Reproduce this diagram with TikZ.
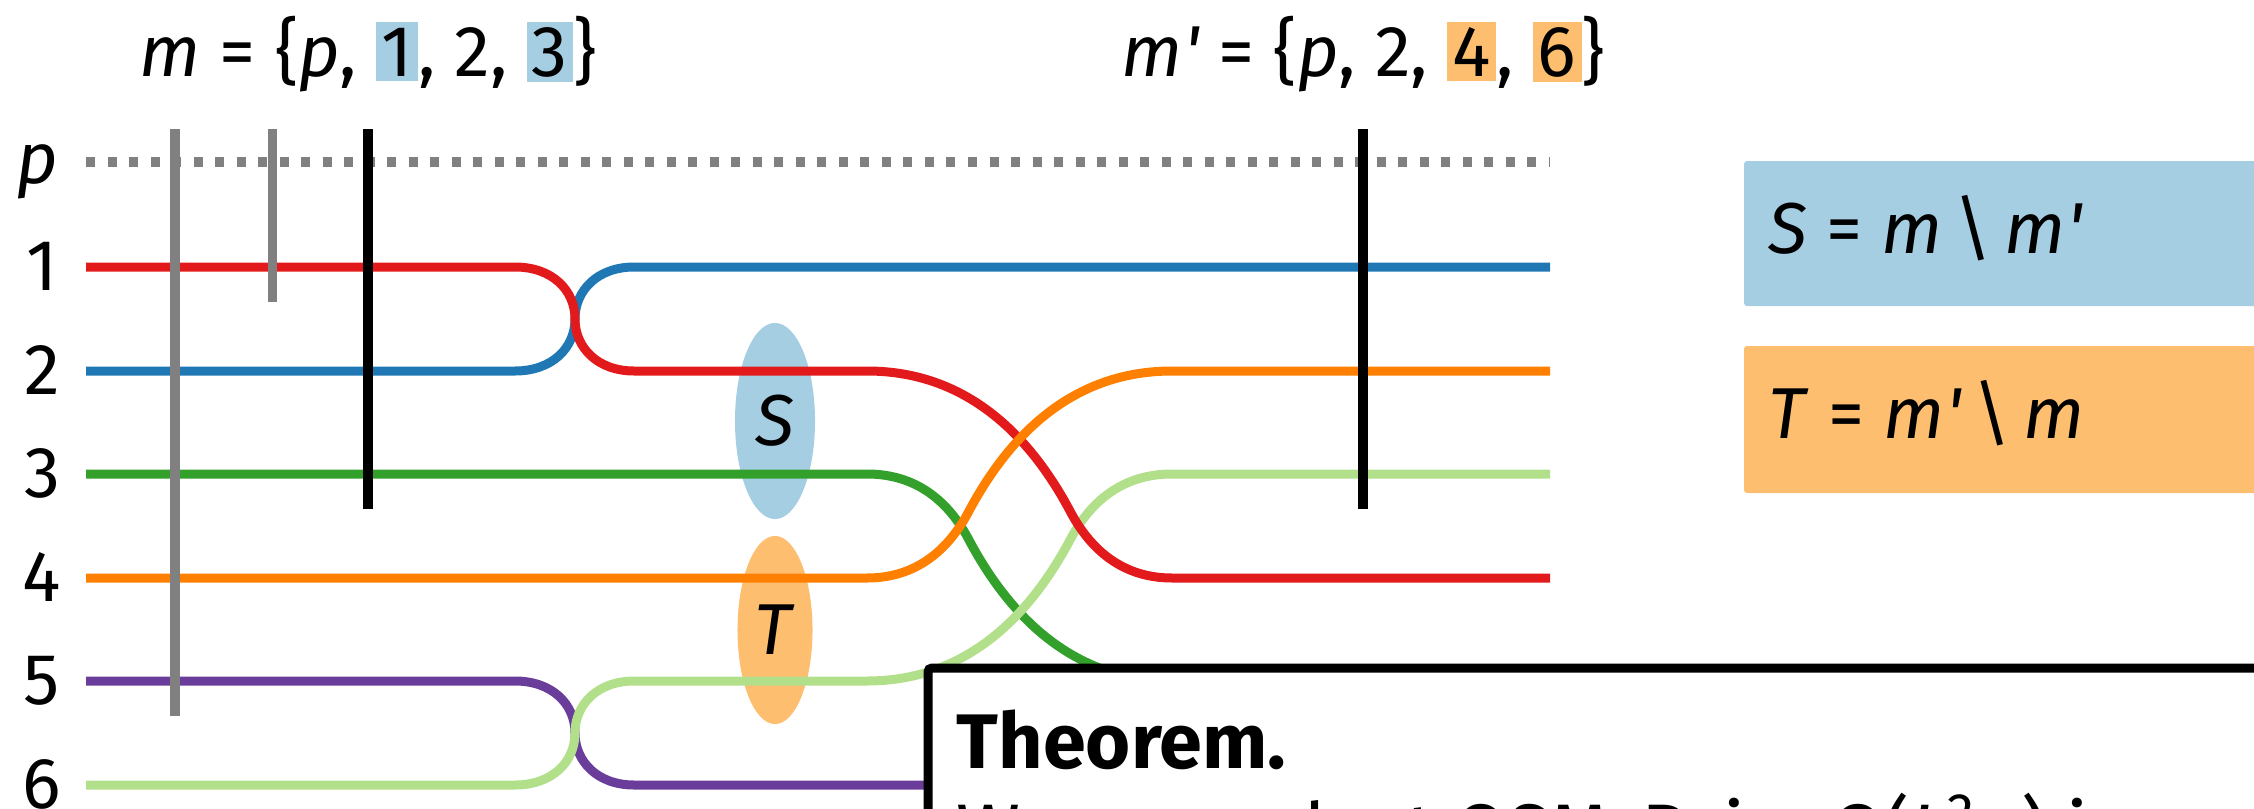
\documentclass[tikz,border=0pt]{standalone}
\usepackage{fontspec}
\setmainfont{Fira Sans}
\usepackage{xcolor}
\usepackage{tikz}
\usetikzlibrary{positioning,calc,shapes.geometric}
\definecolor{wred}{HTML}{E31A1C}
\definecolor{wblue}{HTML}{1F78B4}
\definecolor{wgreen}{HTML}{33A02C}
\definecolor{worange}{HTML}{FF7F00}
\definecolor{wpurple}{HTML}{6A3D9A}
\definecolor{wlgreen}{HTML}{B2DF8A}
\definecolor{setblue}{HTML}{A6CEE3}
\definecolor{setorange}{HTML}{FDBF6F}
\definecolor{bargray}{HTML}{808080}
\newcommand{\hl}[2]{{\setlength{\fboxsep}{1.5pt}\colorbox{#1}{#2}}}
\newcommand{\mysize}{\fontsize{20.5pt}{24pt}\selectfont}
\newcommand{\mprime}{\textit{m\kern0.5pt\textquotesingle}}
\tikzset{wire/.style={line width=0.09cm},
  gbar/.style={line width=0.09cm,draw=bargray},
  kbar/.style={line width=0.1cm,draw=black},
  rowlabel/.style={font=\mysize,inner sep=0pt,anchor=base},
  setname/.style={font=\mysize,inner sep=0pt,anchor=base},
  blob/.style={ellipse,inner sep=0pt,font=\mysize},
  legendbox/.style={fill,rounded corners=0.03cm},
  thmtext/.style={font=\fontsize{22pt}{26pt}\selectfont,inner sep=0pt,anchor=base west}}

\begin{document}
\begin{tikzpicture}[x=0.01cm,y=-0.01cm]
 \useasboundingbox (0,0) rectangle (2254,809);
 \clip (0,0) rectangle (2254,809);
 % the two differences
 \node[blob,fill=setblue,minimum width=0.8cm,minimum height=1.96cm] (sblob) at (775,421) {\textit{S}};
 \node[blob,fill=setorange,minimum width=0.75cm,minimum height=1.88cm] (tblob) at (775,630) {\textit{T}};
 % wires
 \draw[gbar,dash pattern=on 0.09cm off 0.125cm] (86,162) -- (1550,162);
 \draw[wire,wblue] (86,371) -- (515,371) .. controls (552,371) and (575,348) .. (575,319)
   .. controls (575,290) and (598,267) .. (634,267) -- (1550,267);
 \draw[wire,wpurple] (86,681) -- (515,681) .. controls (552,681) and (575,704) .. (575,733)
   .. controls (575,762) and (598,785) .. (634,785) -- (1550,785);
 \draw[wire,wgreen] (86,474) -- (867,474) .. controls (917,474) and (949,502) .. (969,540)
   .. controls (1009,615) and (1072,681) .. (1172,681) -- (1550,681);
 \draw[wire,wlgreen] (86,785) -- (515,785) .. controls (552,785) and (575,762) .. (575,733)
   .. controls (575,704) and (598,681) .. (634,681) -- (867,681)
   .. controls (967,681) and (1030,615) .. (1070,540)
   .. controls (1090,502) and (1122,474) .. (1172,474) -- (1550,474);
 \draw[wire,wred] (86,267) -- (515,267) .. controls (552,267) and (575,290) .. (575,319)
   .. controls (575,348) and (598,371) .. (634,371) -- (867,371)
   .. controls (967,371) and (1030,436) .. (1070,511)
   .. controls (1090,549) and (1122,578) .. (1172,578) -- (1550,578);
 \draw[wire,worange] (86,578) -- (867,578) .. controls (917,578) and (949,549) .. (969,511)
   .. controls (1009,436) and (1072,371) .. (1172,371) -- (1550,371);
 % matchings
 \draw[gbar] (175,129) -- (175,716);
 \draw[gbar] (272,129) -- (272,302);
 \draw[kbar] (368,129) -- (368,509);
 \draw[kbar] (1363,129) -- (1363,509);
 % labels
 \node[rowlabel] (rowp) at (37,183) {\textit{p}};
 \foreach \n/\y in {1/267,2/371,3/474,4/578,5/681,6/785}
  \node[rowlabel] (row\n) at (42,\y+23) {\n};
 \node[setname] (mset) at (368,76) {\textit{m} = \{\textit{p}, \hl{setblue}{1}, 2, \hl{setblue}{3}\}};
 \node[setname] (mpset) at (1363,76) {\mprime\ = \{\textit{p}, 2, \hl{setorange}{4}, \hl{setorange}{6}\}};
 % legend
 \fill[legendbox,setblue] (1744,161) rectangle (2320,306);
 \fill[legendbox,setorange] (1744,346) rectangle (2320,493);
 \node[setname,anchor=base west] (sdef) at (1768,253) {\textit{S} = \textit{m}\,\textbackslash\,\mprime};
 \node[setname,anchor=base west] (tdef) at (1768,438) {\textit{T} = \mprime\,\textbackslash\,\textit{m}};
 % theorem box
 \draw[line width=0.09cm,fill=white,rounded corners=0.04cm] (928,668) rectangle (2320,900);
 \node[thmtext] (thmhead) at (956,768) {\bfseries Theorem.};
 \node[thmtext] (thmbody) at (956,858) {We can select OSM-Pairs O(\textit{L}\textsuperscript{2}\textit{n}) in};
\end{tikzpicture}
\end{document}
